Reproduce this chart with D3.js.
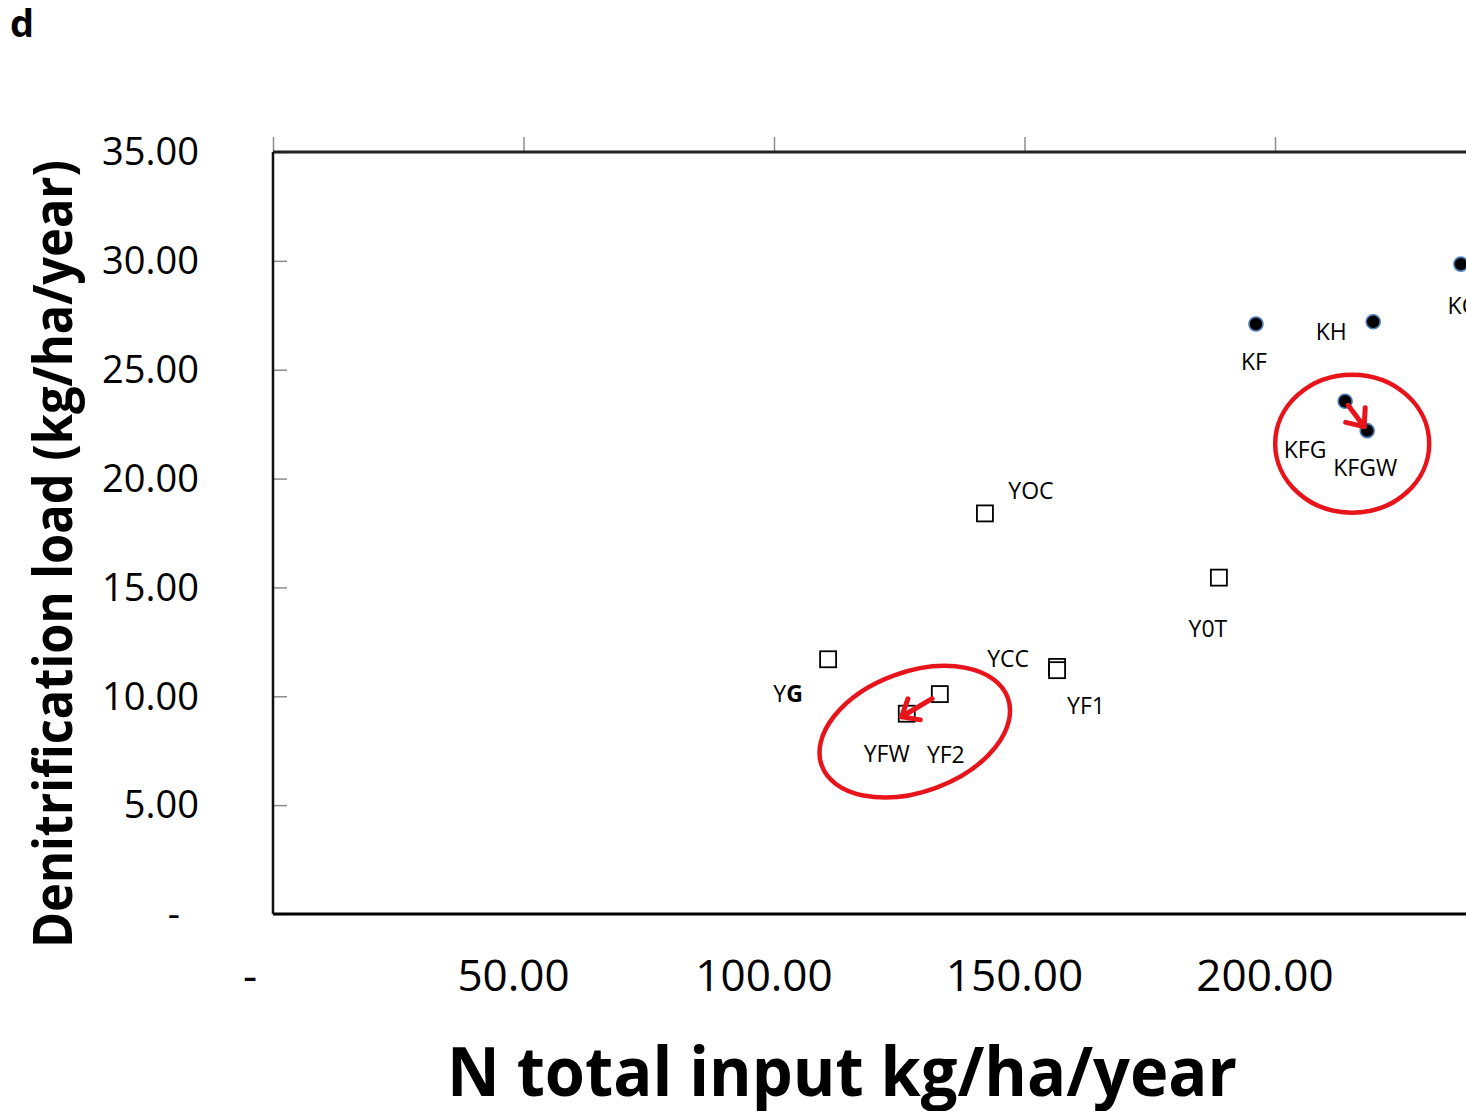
<!DOCTYPE html>
<html>
<head>
<meta charset="utf-8">
<script src="https://cdn.jsdelivr.net/npm/d3@7"></script>
<style>
  body { margin: 0; background: #fff; }
  svg { display: block; font-family: "Open Sans", sans-serif; }
</style>
</head>
<body>
<div id="chart"></div>
<script>
// Data
var kNames = ["KF", "KH", "KC", "KFG", "KFGW"];
var kInput = [196.2, 219.6, 237.1, 214.0, 218.4];
var kDenit = [27.1, 27.2, 29.85, 23.55, 22.2];

var yNames = ["YOC", "Y0T", "YG", "YF2", "YFW", "YCC", "YF1"];
var yInput = [142.1, 188.8, 110.8, 133.1, 126.5, 156.5, 156.5];
var yDenit = [18.4, 15.45, 11.7, 10.1, 9.2, 11.35, 11.2];

var xTicks = [0, 50, 100, 150, 200];
var yTicks = [0, 5, 10, 15, 20, 25, 30, 35];

// label centre offsets (px) relative to each marker
var labelOffset = {
    KF: [-2, 38], KH: [-42, 10], KC: [1, 42], KFG: [-40, 49], KFGW: [-2, 37],
    YOC: [46, -22], Y0T: [-11, 51], YG: [-40, 35], YF2: [6, 61], YFW: [-20, 40],
    YCC: [-49, -8], YF1: [29, 36]
};

var W = 1466, H = 1111;
var svg = d3.select("#chart").append("svg")
    .attr("width", W)
    .attr("height", H);

var plotLeft = 273, plotTop = 152, plotBottom = 914;

var x = d3.scaleLinear().domain([0, 250]).range([plotLeft, plotLeft + 250 * 5.01]);
var y = d3.scaleLinear().domain([0, 35]).range([plotBottom, plotTop]);

var fmt = function(d) { return d === 0 ? "-" : d.toFixed(2); };

// panel letter
svg.append("text")
    .attr("x", 10).attr("y", 37)
    .style("font-size", "38px").style("font-weight", "bold")
    .text("d");

// top axis: gray ticks pointing up
var topAxis = svg.append("g")
    .attr("transform", "translate(0," + plotTop + ")")
    .call(d3.axisTop(x).tickValues(xTicks).tickSize(15).tickFormat(""));
topAxis.select(".domain").remove();
topAxis.selectAll(".tick line").attr("stroke", "#8c8c8c").attr("stroke-width", 1.5);

// left axis: gray ticks pointing inward
var leftAxis = svg.append("g")
    .attr("transform", "translate(" + plotLeft + ",0)")
    .call(d3.axisRight(y).tickValues(yTicks).tickSize(14).tickFormat(""));
leftAxis.select(".domain").remove();
leftAxis.selectAll(".tick line").attr("stroke", "#8c8c8c").attr("stroke-width", 1.5);

// frame lines
svg.append("line")
    .attr("x1", plotLeft).attr("x2", W)
    .attr("y1", plotTop).attr("y2", plotTop)
    .attr("stroke", "#222").attr("stroke-width", 3);
svg.append("line")
    .attr("x1", plotLeft).attr("x2", W)
    .attr("y1", plotBottom).attr("y2", plotBottom)
    .attr("stroke", "#000").attr("stroke-width", 3);
svg.append("line")
    .attr("x1", plotLeft).attr("x2", plotLeft)
    .attr("y1", plotTop).attr("y2", plotBottom)
    .attr("stroke", "#111").attr("stroke-width", 2.5);

// tick labels
svg.append("g").selectAll("text")
    .data(yTicks)
    .enter().append("text")
    .attr("x", d => d === 0 ? 180 : 199)
    .attr("y", d => y(d))
    .attr("dy", "0.35em")
    .attr("text-anchor", "end")
    .style("font-size", "38px")
    .text(fmt);

svg.append("g").selectAll("text")
    .data(xTicks)
    .enter().append("text")
    .attr("x", d => x(d) - (d === 0 ? 23 : 10))
    .attr("y", 976)
    .attr("dy", "0.35em")
    .attr("text-anchor", "middle")
    .style("font-size", "44px")
    .text(fmt);

// axis titles
svg.append("text")
    .attr("transform", "translate(72,554) rotate(-90)")
    .attr("text-anchor", "middle")
    .attr("textLength", 788)
    .attr("lengthAdjust", "spacingAndGlyphs")
    .style("font-size", "54px").style("font-weight", "bold")
    .text("Denitrification load (kg/ha/year)");

svg.append("text")
    .attr("x", 842).attr("y", 1096)
    .attr("text-anchor", "middle")
    .attr("textLength", 790)
    .attr("lengthAdjust", "spacingAndGlyphs")
    .style("font-size", "68px").style("font-weight", "bold")
    .text("N total input kg/ha/year");

// annotation ellipses (drawn under markers)
var kI = n => kNames.indexOf(n), yI = n => yNames.indexOf(n);
var ann = svg.append("g");
var red = "#e8141b";

var kfgwPt = [x(kInput[kI("KFGW")]), y(kDenit[kI("KFGW")])];
ann.append("ellipse")
    .attr("cx", kfgwPt[0] - 15).attr("cy", kfgwPt[1] + 13)
    .attr("rx", 77).attr("ry", 69)
    .attr("fill", "none").attr("stroke", red).attr("stroke-width", 4.5);

var yfwPt = [x(yInput[yI("YFW")]), y(yDenit[yI("YFW")])];
ann.append("ellipse")
    .attr("transform", "translate(" + (yfwPt[0] + 8) + "," + (yfwPt[1] + 18) + ") rotate(-20)")
    .attr("rx", 99).attr("ry", 60)
    .attr("fill", "none").attr("stroke", red).attr("stroke-width", 4.5);

var mk = svg.append("g");

// K sites: filled circles
kNames.forEach(function(n, i) {
    mk.append("circle")
        .attr("cx", x(kInput[i])).attr("cy", y(kDenit[i]))
        .attr("r", 7)
        .attr("fill", "#000").attr("stroke", "#4a7ebb").attr("stroke-width", 1.6);
});

// Y sites: open squares
yNames.forEach(function(n, i) {
    mk.append("rect")
        .attr("x", x(yInput[i]) - 8).attr("y", y(yDenit[i]) - 8)
        .attr("width", 16).attr("height", 16)
        .attr("fill", "#fff").attr("stroke", "#000").attr("stroke-width", 1.8);
});

// arrows on top of markers
var arr = svg.append("g");
function arrow(from, to, startGap, endGap) {
    var dx = to[0] - from[0], dy = to[1] - from[1];
    var len = Math.sqrt(dx * dx + dy * dy);
    var ux = dx / len, uy = dy / len;
    var s = [from[0] + ux * startGap, from[1] + uy * startGap];
    var t = [to[0] - ux * endGap, to[1] - uy * endGap];
    var hl = 19, ang = Math.PI / 4.5;
    var a1 = Math.atan2(-uy, -ux) + ang, a2 = Math.atan2(-uy, -ux) - ang;
    var g = arr.append("g").attr("stroke", red).attr("stroke-width", 5)
        .attr("stroke-linecap", "round").attr("stroke-linejoin", "round").attr("fill", "none");
    g.append("line").attr("x1", s[0]).attr("y1", s[1]).attr("x2", t[0]).attr("y2", t[1]);
    g.append("polyline").attr("points",
        [[t[0] + hl * Math.cos(a1), t[1] + hl * Math.sin(a1)], t,
         [t[0] + hl * Math.cos(a2), t[1] + hl * Math.sin(a2)]].map(p => p.join(",")).join(" "));
}
arrow([x(kInput[kI("KFG")]), y(kDenit[kI("KFG")])], kfgwPt, 5, 5);
arrow([x(yInput[yI("YF2")]), y(yDenit[yI("YF2")])], yfwPt, 9, -6);

// point labels
var lab = svg.append("g").style("font-size", "23px");
kNames.forEach(function(n, i) {
    lab.append("text")
        .attr("x", x(kInput[i]) + labelOffset[n][0])
        .attr("y", y(kDenit[i]) + labelOffset[n][1])
        .attr("dy", "0.35em")
        .attr("text-anchor", "middle")
        .text(n);
});
yNames.forEach(function(n, i) {
    var t = lab.append("text")
        .attr("x", x(yInput[i]) + labelOffset[n][0])
        .attr("y", y(yDenit[i]) + labelOffset[n][1])
        .attr("dy", "0.35em")
        .attr("text-anchor", "middle");
    if (n === "YG") {
        t.append("tspan").text("Y");
        t.append("tspan").style("font-weight", "bold").text("G");
    } else {
        t.text(n);
    }
});
</script>
</body>
</html>
